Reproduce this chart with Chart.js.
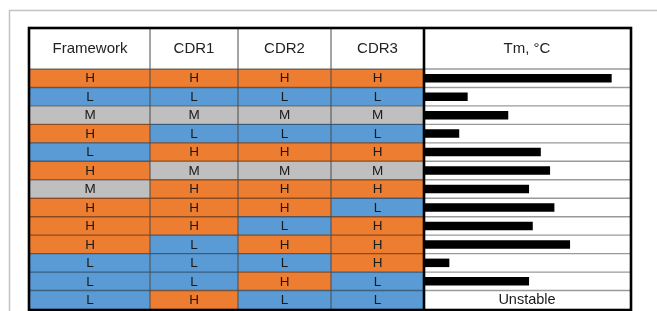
<!DOCTYPE html>
<html>
<head>
<meta charset="utf-8">
<script src="https://cdn.jsdelivr.net/npm/chart.js@4"></script>
<style>
    body { margin: 0; background: #fff; }
    #wrap { position: relative; width: 657px; height: 311px; }
</style>
</head>
<body>
<div id="wrap"><canvas id="tableChart"></canvas></div>
<script>
// one row per construct
const rows = ['1', '2', '3', '4', '5', '6', '7', '8', '9', '10', '11', '12', '13'];
const framework = ['H', 'L', 'M', 'H', 'L', 'H', 'M', 'H', 'H', 'H', 'L', 'L', 'L'];
const cdr1 = ['H', 'L', 'M', 'L', 'H', 'M', 'H', 'H', 'H', 'L', 'L', 'L', 'H'];
const cdr2 = ['H', 'L', 'M', 'L', 'H', 'M', 'H', 'H', 'L', 'H', 'L', 'H', 'L'];
const cdr3 = ['H', 'L', 'M', 'L', 'H', 'M', 'H', 'L', 'H', 'H', 'H', 'L', 'L'];
// Tm bar length, relative units (null = unstable)
const tmValues = [91.1, 21.2, 40.9, 17.1, 56.7, 61.2, 51.0, 63.3, 52.8, 70.9, 12.3, 51.0, null];

const columnNames = ['Framework', 'CDR1', 'CDR2', 'CDR3', 'Tm, °C'];
const columnWeights = [120, 88, 93, 93, 206];

const levelColors = { H: '#ED7D31', L: '#5B9BD5', M: '#BFBFBF' };
const FONT = '"Liberation Sans", Arial, sans-serif';

const axisIds = ['xF', 'x1', 'x2', 'x3', 'tm'];
const levelColumns = [framework, cdr1, cdr2, cdr3];

const datasets = levelColumns.map((col, j) => ({
    label: columnNames[j],
    data: col.map(() => [0, 1]),
    levels: col,
    backgroundColor: col.map(l => levelColors[l]),
    xAxisID: axisIds[j],
    grouped: false,
    barPercentage: 1,
    categoryPercentage: 1,
    borderWidth: 0
}));

datasets.push({
    label: 'Tm',
    data: tmValues,
    backgroundColor: '#000',
    xAxisID: 'tm',
    grouped: false,
    barPercentage: 0.46,
    categoryPercentage: 1,
    borderWidth: 0
});

const scales = {
    y: { type: 'category', display: false, offset: true }
};
axisIds.forEach((id, j) => {
    scales[id] = {
        type: 'linear',
        position: 'top',
        stack: 'cols',
        stackWeight: columnWeights[j],
        weight: 10 - j,   // top boxes are placed highest weight first
        min: 0,
        max: j < 4 ? 1 : 100,
        ticks: { display: false },
        grid: { display: false, drawTicks: false },
        border: { display: false },
        title: {
            display: true,
            text: columnNames[j],
            color: '#222',
            font: { family: FONT, size: 15 },
            padding: { top: 11, bottom: 11 }
        }
    };
});

const tablePlugin = {
    id: 'tableLines',
    beforeDraw(chart) {
        const ctx = chart.ctx;
        ctx.save();
        ctx.strokeStyle = '#c3c3c3';
        ctx.lineWidth = 1.5;
        ctx.beginPath();
        ctx.moveTo(9.5, chart.height);
        ctx.lineTo(9.5, 10.5);
        ctx.lineTo(chart.width, 10.5);
        ctx.stroke();
        ctx.restore();
    },
    afterDatasetsDraw(chart) {
        const ctx = chart.ctx;
        const ca = chart.chartArea;
        const y = chart.scales.y;
        const headTop = chart.scales.xF.top;
        ctx.save();

        // row separators
        ctx.strokeStyle = 'rgba(0,0,0,0.4)';
        ctx.lineWidth = 1.4;
        for (let i = 0; i < rows.length; i++) {
            const yy = i === 0 ? ca.top : (y.getPixelForValue(i - 1) + y.getPixelForValue(i)) / 2;
            ctx.beginPath();
            ctx.moveTo(ca.left, yy);
            ctx.lineTo(ca.right, yy);
            ctx.stroke();
        }

        // column separators
        axisIds.slice(1).forEach(id => {
            const sc = chart.scales[id];
            ctx.beginPath();
            if (id === 'tm') {
                ctx.strokeStyle = '#000';
                ctx.lineWidth = 2.6;
            } else {
                ctx.strokeStyle = '#4a4a4a';
                ctx.lineWidth = 1;
            }
            ctx.moveTo(sc.left, headTop);
            ctx.lineTo(sc.left, ca.bottom);
            ctx.stroke();
        });

        // cell letters
        ctx.fillStyle = '#1a1a1a';
        ctx.textAlign = 'center';
        ctx.textBaseline = 'middle';
        ctx.font = '13.5px ' + FONT;
        chart.data.datasets.forEach((ds, j) => {
            if (!ds.levels) return;
            chart.getDatasetMeta(j).data.forEach((bar, i) => {
                ctx.fillText(ds.levels[i], (bar.x + bar.base) / 2, bar.y + 0.5);
            });
        });

        // unstable constructs
        const tm = chart.scales.tm;
        ctx.font = '14.5px ' + FONT;
        tmValues.forEach((v, i) => {
            if (v === null) {
                ctx.fillText('Unstable', (tm.left + tm.right) / 2, y.getPixelForValue(i) + 0.5);
            }
        });

        // outer border
        ctx.strokeStyle = '#000';
        ctx.lineWidth = 2.6;
        ctx.strokeRect(ca.left - 1, headTop - 1, ca.right - ca.left + 2, ca.bottom - headTop + 2);
        ctx.restore();
    }
};

new Chart(document.getElementById('tableChart'), {
    type: 'bar',
    data: { labels: rows, datasets: datasets },
    options: {
        indexAxis: 'y',
        responsive: true,
        maintainAspectRatio: false,
        animation: false,
        layout: { padding: { left: 30, right: 27, top: 29, bottom: 2 } },
        plugins: {
            legend: { display: false },
            tooltip: { enabled: false }
        },
        scales: scales
    },
    plugins: [tablePlugin]
});
</script>
</body>
</html>
